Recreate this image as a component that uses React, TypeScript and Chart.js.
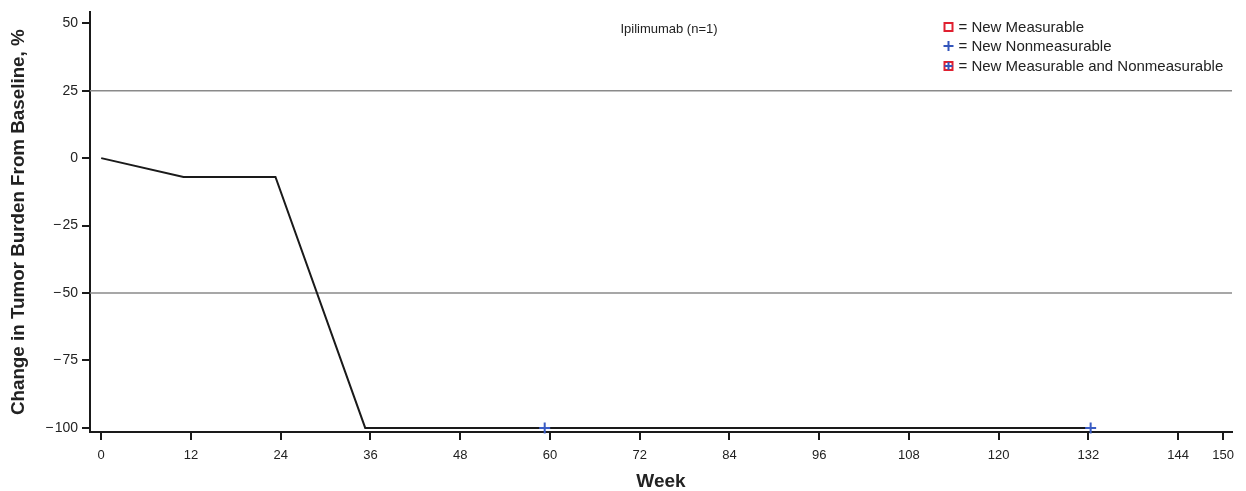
import React, { useEffect, useRef } from "react";
import { Chart, registerables } from "chart.js";

Chart.register(...registerables);

const weeks = [0, 11, 23.3, 35.3, 59.3, 132.3];
const changes = [0, -7, -7, -100, -100, -100];
const crossWeeks = [59.3, 132.3];
const crossValues = [-100, -100];
const refLevels = [25, -50];
const xTicks = [0, 12, 24, 36, 48, 60, 72, 84, 96, 108, 120, 132, 144, 150];
const yTicks = [-100, -75, -50, -25, 0, 25, 50];
const chartTitle = "Ipilimumab (n=1)";
const legendLabels = ["= New Measurable", "= New Nonmeasurable", "= New Measurable and Nonmeasurable"];

const X_MIN = -1.5;
const X_MAX = 151.2;
const FONT = "'Liberation Sans', Arial, Helvetica, sans-serif";

export default function App() {
  const ref = useRef<HTMLCanvasElement | null>(null);

  useEffect(() => {
    document.body.style.margin = "0";
    const canvas = ref.current;
    if (!canvas) return;

    const overlay = {
      id: "overlay",
      afterDraw(chart: any) {
        const { ctx, chartArea } = chart;
        ctx.save();
        ctx.fillStyle = "#222";
        ctx.font = `13px ${FONT}`;
        ctx.textAlign = "center";
        ctx.textBaseline = "middle";
        ctx.fillText(chartTitle, chartArea.left + (chartArea.right - chartArea.left) * 0.507, 29);

        const sx = 948.5;
        const rows = [27, 46, 66];
        ctx.textAlign = "left";
        ctx.font = `15px ${FONT}`;
        legendLabels.forEach((t, i) => {
          const y = rows[i];
          ctx.lineWidth = 2;
          if (i === 0 || i === 2) {
            ctx.strokeStyle = "#e02030";
            ctx.strokeRect(sx - 4, y - 4, 8, 8);
          }
          if (i === 1 || i === 2) {
            ctx.strokeStyle = "#3355bb";
            const h = i === 1 ? 5 : 4;
            ctx.beginPath();
            ctx.moveTo(sx - h, y);
            ctx.lineTo(sx + h, y);
            ctx.moveTo(sx, y - h);
            ctx.lineTo(sx, y + h);
            ctx.stroke();
          }
          ctx.fillStyle = "#222";
          ctx.fillText(t, sx + 10, y + 1);
        });
        ctx.restore();
      },
    };

    const refDatasets = refLevels.map((lv) => ({
      data: [
        { x: X_MIN, y: lv },
        { x: X_MAX, y: lv },
      ],
      borderColor: "#8a8a8a",
      borderWidth: 1.5,
      pointRadius: 0,
      fill: false,
      order: 2,
    }));

    const chart = new Chart(canvas, {
      type: "line",
      data: {
        datasets: [
          ...refDatasets,
          {
            data: weeks.map((w, i) => ({ x: w, y: changes[i] })),
            borderColor: "#1a1a1a",
            borderWidth: 2,
            pointRadius: 0,
            fill: false,
            tension: 0,
            order: 1,
          },
          {
            data: crossWeeks.map((w, i) => ({ x: w, y: crossValues[i] })),
            showLine: false,
            pointStyle: "cross",
            pointRadius: 5.5,
            borderColor: "#3a5cc4",
            borderWidth: 2,
            clip: false,
            order: 0,
          },
        ] as any,
      },
      options: {
        animation: false,
        responsive: false,
        layout: { padding: { top: 10, right: 14, left: 0, bottom: 0 } },
        plugins: {
          legend: { display: false },
          tooltip: { enabled: false },
          title: { display: false },
        },
        scales: {
          x: {
            type: "linear",
            min: X_MIN,
            max: X_MAX,
            afterBuildTicks: (s: any) => {
              s.ticks = xTicks.map((v) => ({ value: v }));
            },
            afterFit: (s: any) => {
              s.height = 59;
            },
            border: { color: "#1a1a1a", width: 2 },
            grid: {
              drawOnChartArea: false,
              drawTicks: true,
              tickLength: 8,
              tickColor: "#1a1a1a",
              lineWidth: 2,
            },
            ticks: {
              autoSkip: false,
              maxRotation: 0,
              padding: 8,
              color: "#222",
              font: { family: FONT, size: 13 },
              callback: (v: any) => String(v),
            },
            title: {
              display: true,
              text: "Week",
              color: "#222",
              font: { family: FONT, size: 19, weight: "bold", lineHeight: 1 },
              padding: { top: 0, bottom: 0 },
            },
          },
          y: {
            type: "linear",
            min: -101.5,
            max: 54,
            afterBuildTicks: (s: any) => {
              s.ticks = yTicks.map((v) => ({ value: v }));
            },
            afterFit: (s: any) => {
              s.width = 90;
            },
            border: { color: "#1a1a1a", width: 2 },
            grid: {
              drawOnChartArea: false,
              drawTicks: true,
              tickLength: 8,
              tickColor: "#1a1a1a",
              lineWidth: 2,
            },
            ticks: {
              padding: 4,
              color: "#222",
              font: { family: FONT, size: 14 },
              callback: (v: any) => (Number(v) < 0 ? "\u2212\u200A" + Math.abs(Number(v)) : String(v)),
            },
            title: {
              display: true,
              text: "Change in Tumor Burden From Baseline, %",
              color: "#222",
              font: { family: FONT, size: 18.8, weight: "bold", lineHeight: 1 },
              padding: { top: 9, bottom: 0 },
            },
          },
        },
      },
      plugins: [overlay],
    });

    return () => chart.destroy();
  }, []);

  return (
    <div style={{ width: 1246, height: 491 }}>
      <canvas ref={ref} width={1246} height={491} style={{ display: "block" }} />
    </div>
  );
}
